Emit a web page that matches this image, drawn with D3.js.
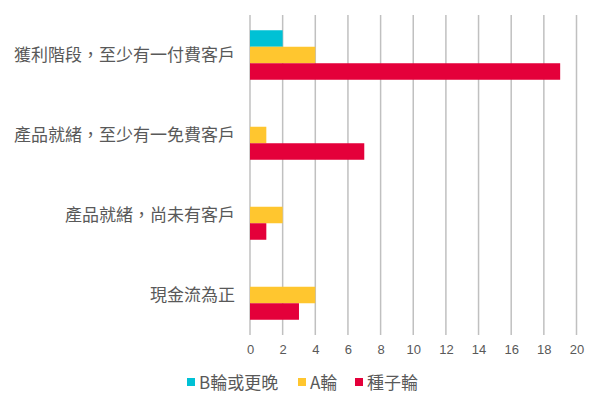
<!DOCTYPE html>
<html><head><meta charset="utf-8">
<script src="https://cdn.jsdelivr.net/npm/d3@7"></script>
<style>body{margin:0;background:#fff}svg{display:block}text{font-family:"Noto Sans CJK TC","Noto Sans",sans-serif;fill:#595959}</style>
</head><body><svg id="c" width="600" height="405"></svg>
<script>
const categories = ["獲利階段，至少有一付費客戶","產品就緒，至少有一免費客戶","產品就緒，尚未有客戶","現金流為正"];
const seriesNames = ["B輪或更晚","A輪","種子輪"];
const seriesB = [2,0,0,0];
const seriesA = [4,1,2,4];
const seriesSeed = [19,7,1,3];
const xTicks = [0,2,4,6,8,10,12,14,16,18,20];
const colors = ["#00C1D5","#FFC62F","#E4003A"];

const svg = d3.select("#c");
const x = d3.scaleLinear().domain([0,20]).range([250,576.5]);
const y = d3.scaleBand().domain(categories).range([15,335]);
const barH = 16.5;
// grid
svg.append("g").selectAll("line").data(xTicks).join("line")
  .attr("x1",d=>x(d)).attr("x2",d=>x(d)).attr("y1",15).attr("y2",335)
  .attr("stroke","#C0C0C0").attr("stroke-width",1.5);
const series = [seriesB,seriesA,seriesSeed];
const offset = (y.bandwidth()-3*barH)/2;
series.forEach((vals,si)=>{
  svg.append("g").selectAll("rect").data(categories.map((c,i)=>({c,v:vals[i]})).filter(d=>d.v>0)).join("rect")
    .attr("x",x(0)).attr("width",d=>x(d.v)-x(0))
    .attr("y",d=>y(d.c)+offset+si*barH).attr("height",barH)
    .attr("fill",colors[si]);
});
// axis
const ax = svg.append("g").attr("transform","translate(0,335)").call(d3.axisBottom(x).tickValues(xTicks).tickSize(0).tickPadding(10));
ax.select(".domain").remove();
ax.selectAll("text").style("font-family","'Liberation Sans',Arial,sans-serif").attr("font-size",13).attr("fill","#595959");
// category labels
svg.append("g").selectAll("text").data(categories).join("text")
  .attr("x",235).attr("y",d=>y(d)+y.bandwidth()/2).attr("dy","0.35em")
  .attr("text-anchor","end").attr("font-size",17).text(d=>d);
// legend
const legX = [187,298,355];
const lg = svg.append("g");
seriesNames.forEach((n,i)=>{
  lg.append("rect").attr("x",legX[i]).attr("y",378).attr("width",8).attr("height",8).attr("fill",colors[i]);
  lg.append("text").attr("x",legX[i]+12).attr("y",383).attr("dy","0.35em").attr("font-size",17).text(n);
});
</script></body></html>
